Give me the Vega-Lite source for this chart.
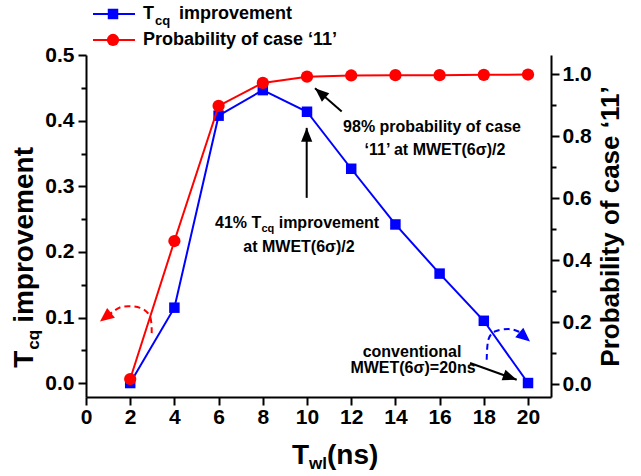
{
  "$schema": "https://vega.github.io/schema/vega-lite/v6.json",
  "width": 465,
  "height": 342,
  "autosize": {"type": "none"},
  "padding": {"left": 86, "top": 55, "right": 90, "bottom": 79},
  "background": "white",
  "config": {
    "view": {"stroke": null},
    "axis": {
      "grid": false,
      "domainColor": "black",
      "domainWidth": 2,
      "tickColor": "black",
      "tickWidth": 2,
      "labelFont": "Liberation Sans",
      "labelFontWeight": "bold",
      "labelFontSize": 21,
      "labelColor": "black",
      "titleFont": "Liberation Sans",
      "titleFontWeight": "bold",
      "titleColor": "black"
    }
  },
  "datasets": {
    "series": [
      {"x": 2, "imp": 0.0, "prob": 0.017},
      {"x": 4, "imp": 0.115, "prob": 0.462},
      {"x": 6, "imp": 0.408, "prob": 0.898},
      {"x": 8, "imp": 0.447, "prob": 0.972},
      {"x": 10, "imp": 0.414, "prob": 0.992},
      {"x": 12, "imp": 0.327, "prob": 0.996},
      {"x": 14, "imp": 0.242, "prob": 0.997},
      {"x": 16, "imp": 0.167, "prob": 0.997},
      {"x": 18, "imp": 0.095, "prob": 0.998},
      {"x": 20, "imp": 0.0, "prob": 0.999}
    ],
    "legLineBlue": [{"x": 0.317, "x2": 2.217, "y": 0.5632}],
    "legPtBlue": [{"x": 1.222, "y": 0.5632}],
    "legLineRed": [{"x": 0.317, "x2": 2.217, "y": 0.5235}],
    "legPtRed": [{"x": 1.222, "y": 0.5235}],
    "leg18": [
      {"x": 2.579, "y": 0.5557, "text": "T"},
      {"x": 4.208, "y": 0.5557, "text": "improvement"},
      {"x": 2.579, "y": 0.5154, "text": "Probability of case ‘11’"}
    ],
    "leg13": [{"x": 3.122, "y": 0.5464, "text": "cq"}],
    "txt16c": [
      {"x": 15.656, "y": 0.3832, "text": "98% probability of case"},
      {"x": 15.79, "y": 0.3483, "text": "‘11’ at MWET(6σ)/2"},
      {"x": 9.638, "y": 0.2007, "text": "at MWET(6σ)/2"},
      {"x": 14.751, "y": 0.0401, "text": "conventional"},
      {"x": 14.796, "y": 0.0157, "text": "MWET(6σ)=20ns"}
    ],
    "txt16l": [
      {"x": 5.837, "y": 0.2365, "text": "41% T"},
      {"x": 8.719, "y": 0.2365, "text": "improvement"}
    ],
    "txt11": [{"x": 7.941, "y": 0.2307, "text": "cq"}],
    "ttl28": [
      {"x": 9.321, "y": -0.1231, "text": "T"},
      {"x": 10.905, "y": -0.1231, "text": "(ns)"}
    ],
    "ttl17": [{"x": 10.095, "y": -0.1307, "text": "wl"}],
    "ttlv28": [
      {"x": -2.398, "y": 0.0233, "text": "T"},
      {"x": -2.398, "y": 0.0919, "text": "improvement"}
    ],
    "ttlv17": [{"x": -2.127, "y": 0.0508, "text": "cq"}],
    "arrows": [
      {"id": "a1", "i": 0, "x": 11.57, "y": 0.4142},
      {"id": "a1", "i": 1, "x": 10.362, "y": 0.4499},
      {"id": "a2", "i": 0, "x": 9.986, "y": 0.2826},
      {"id": "a2", "i": 1, "x": 9.986, "y": 0.3894},
      {"id": "a3", "i": 0, "x": 17.376, "y": 0.0305},
      {"id": "a3", "i": 1, "x": 19.489, "y": 0.005}
    ],
    "head1": [{"x": 10.362, "y": 0.4499}],
    "head2": [{"x": 9.986, "y": 0.3894}],
    "head3": [{"x": 19.489, "y": 0.005}],
    "curveRed": [
      {"i": 0, "x": 2.973, "y": 0.0762},
      {"i": 1, "x": 2.896, "y": 0.1016},
      {"i": 2, "x": 2.443, "y": 0.1148},
      {"i": 3, "x": 1.688, "y": 0.1168},
      {"i": 4, "x": 1.235, "y": 0.1092},
      {"i": 5, "x": 0.95, "y": 0.1010}
    ],
    "headRed": [{"x": 0.633, "y": 0.0939}],
    "curveBlue": [
      {"i": 0, "x": 18.131, "y": 0.0355},
      {"i": 1, "x": 18.204, "y": 0.066},
      {"i": 2, "x": 18.507, "y": 0.0787},
      {"i": 3, "x": 19.109, "y": 0.0823},
      {"i": 4, "x": 19.561, "y": 0.0787},
      {"i": 5, "x": 19.8, "y": 0.072}
    ],
    "headBlue": [{"x": 20.09, "y": 0.0634}]
  },
  "encoding": {
    "x": {
      "field": "x", "type": "quantitative",
      "scale": {"domain": [0, 21.04], "nice": false, "zero": false},
      "axis": {
        "orient": "bottom",
        "values": [0, 2, 4, 6, 8, 10, 12, 14, 16, 18, 20],
        "format": "d",
        "tickSize": 8,
        "labelPadding": 1,
        "labelFlush": false,
        "title": null
      }
    },
    "y": {"field": "y", "type": "quantitative", "scale": {"domain": [-0.0213, 0.5006], "nice": false, "zero": false}, "axis": null}
  },
  "layer": [
    {
      "data": {"name": "series"},
      "mark": {"type": "line", "color": "#0000ff", "strokeWidth": 2},
      "encoding": {
        "y": {
          "field": "imp", "type": "quantitative",
          "scale": {"domain": [-0.0213, 0.5006], "nice": false, "zero": false},
          "axis": {
            "orient": "left",
            "values": [0, 0.05, 0.1, 0.15, 0.2, 0.25, 0.3, 0.35, 0.4, 0.45, 0.5],
            "labelExpr": "abs(datum.value*10 - round(datum.value*10)) < 0.001 ? format(datum.value, '.1f') : ''",
            "tickSize": {"condition": {"test": "abs(datum.value*10 - round(datum.value*10)) < 0.001", "value": 8}, "value": 5},
            "labelPadding": 4,
            "labelFlush": false,
            "title": null
          }
        }
      }
    },
    {
      "data": {"name": "series"},
      "mark": {"type": "point", "shape": "square", "filled": true, "size": 110, "color": "#0000ff", "opacity": 1},
      "encoding": {
        "y": {"field": "imp", "type": "quantitative", "scale": {"domain": [-0.0213, 0.5006], "nice": false, "zero": false}, "axis": null}
      }
    },
    {
      "data": {"name": "series"},
      "mark": {"type": "line", "color": "#ff0000", "strokeWidth": 2},
      "encoding": {
        "y": {
          "field": "prob", "type": "quantitative",
          "scale": {"domain": [-0.041, 1.062], "nice": false, "zero": false},
          "axis": {
            "orient": "right",
            "values": [0, 0.1, 0.2, 0.3, 0.4, 0.5, 0.6, 0.7, 0.8, 0.9, 1.0],
            "labelExpr": "abs(datum.value*5 - round(datum.value*5)) < 0.001 ? format(datum.value, '.1f') : ''",
            "tickSize": {"condition": {"test": "abs(datum.value*5 - round(datum.value*5)) < 0.001", "value": 8}, "value": 5},
            "labelPadding": 3,
            "labelFlush": false,
            "title": "Probability of case ‘11’",
            "titleFontSize": 26,
            "titleAngle": 270,
            "titleBaseline": "top",
            "titlePadding": 6
          }
        }
      }
    },
    {
      "data": {"name": "series"},
      "mark": {"type": "point", "shape": "circle", "filled": true, "size": 150, "color": "#ff0000", "opacity": 1},
      "encoding": {
        "y": {"field": "prob", "type": "quantitative", "scale": {"domain": [-0.041, 1.062], "nice": false, "zero": false}, "axis": null}
      }
    },
    {
      "data": {"name": "arrows"},
      "mark": {"type": "line", "color": "black", "strokeWidth": 2},
      "encoding": {"detail": {"field": "id"}, "order": {"field": "i"}}
    },
    {
      "data": {"name": "head1"},
      "mark": {"type": "point", "shape": "M0,0L0.8,2L-0.8,2Z", "filled": true, "size": 196, "color": "black", "opacity": 1, "angle": 311}
    },
    {
      "data": {"name": "head2"},
      "mark": {"type": "point", "shape": "M0,0L0.8,2L-0.8,2Z", "filled": true, "size": 196, "color": "black", "opacity": 1, "angle": 0}
    },
    {
      "data": {"name": "head3"},
      "mark": {"type": "point", "shape": "M0,0L0.8,2L-0.8,2Z", "filled": true, "size": 196, "color": "black", "opacity": 1, "angle": 110}
    },
    {
      "data": {"name": "curveRed"},
      "mark": {"type": "line", "color": "#ff0000", "strokeWidth": 2, "strokeDash": [6, 4], "interpolate": "cardinal"},
      "encoding": {"order": {"field": "i"}}
    },
    {
      "data": {"name": "headRed"},
      "mark": {"type": "point", "shape": "M0,0L0.9,2L-0.9,2Z", "filled": true, "size": 196, "color": "#ff0000", "opacity": 1, "angle": 232}
    },
    {
      "data": {"name": "curveBlue"},
      "mark": {"type": "line", "color": "#0000ff", "strokeWidth": 2, "strokeDash": [6, 4], "interpolate": "cardinal"},
      "encoding": {"order": {"field": "i"}}
    },
    {
      "data": {"name": "headBlue"},
      "mark": {"type": "point", "shape": "M0,0L0.9,2L-0.9,2Z", "filled": true, "size": 196, "color": "#0000ff", "opacity": 1, "angle": 130}
    },
    {
      "data": {"name": "legLineBlue"},
      "mark": {"type": "rule", "color": "#0000ff", "strokeWidth": 2},
      "encoding": {"x2": {"field": "x2"}}
    },
    {
      "data": {"name": "legPtBlue"},
      "mark": {"type": "point", "shape": "square", "filled": true, "size": 110, "color": "#0000ff", "opacity": 1}
    },
    {
      "data": {"name": "legLineRed"},
      "mark": {"type": "rule", "color": "#ff0000", "strokeWidth": 2},
      "encoding": {"x2": {"field": "x2"}}
    },
    {
      "data": {"name": "legPtRed"},
      "mark": {"type": "point", "shape": "circle", "filled": true, "size": 150, "color": "#ff0000", "opacity": 1}
    },
    {
      "data": {"name": "leg18"},
      "mark": {"type": "text", "font": "Liberation Sans", "fontWeight": "bold", "color": "black", "fontSize": 18, "align": "left", "baseline": "alphabetic"},
      "encoding": {"text": {"field": "text"}}
    },
    {
      "data": {"name": "leg13"},
      "mark": {"type": "text", "font": "Liberation Sans", "fontWeight": "bold", "color": "black", "fontSize": 13, "align": "left", "baseline": "alphabetic"},
      "encoding": {"text": {"field": "text"}}
    },
    {
      "data": {"name": "txt16c"},
      "mark": {"type": "text", "font": "Liberation Sans", "fontWeight": "bold", "color": "black", "fontSize": 16, "align": "center", "baseline": "alphabetic"},
      "encoding": {"text": {"field": "text"}}
    },
    {
      "data": {"name": "txt16l"},
      "mark": {"type": "text", "font": "Liberation Sans", "fontWeight": "bold", "color": "black", "fontSize": 16, "align": "left", "baseline": "alphabetic"},
      "encoding": {"text": {"field": "text"}}
    },
    {
      "data": {"name": "txt11"},
      "mark": {"type": "text", "font": "Liberation Sans", "fontWeight": "bold", "color": "black", "fontSize": 11, "align": "left", "baseline": "alphabetic"},
      "encoding": {"text": {"field": "text"}}
    },
    {
      "data": {"name": "ttl28"},
      "mark": {"type": "text", "font": "Liberation Sans", "fontWeight": "bold", "color": "black", "fontSize": 28, "align": "left", "baseline": "alphabetic"},
      "encoding": {"text": {"field": "text"}}
    },
    {
      "data": {"name": "ttl17"},
      "mark": {"type": "text", "font": "Liberation Sans", "fontWeight": "bold", "color": "black", "fontSize": 17, "align": "left", "baseline": "alphabetic"},
      "encoding": {"text": {"field": "text"}}
    },
    {
      "data": {"name": "ttlv28"},
      "mark": {"type": "text", "font": "Liberation Sans", "fontWeight": "bold", "color": "black", "fontSize": 28, "align": "left", "baseline": "alphabetic", "angle": 270},
      "encoding": {"text": {"field": "text"}}
    },
    {
      "data": {"name": "ttlv17"},
      "mark": {"type": "text", "font": "Liberation Sans", "fontWeight": "bold", "color": "black", "fontSize": 17, "align": "left", "baseline": "alphabetic", "angle": 270},
      "encoding": {"text": {"field": "text"}}
    }
  ],
  "resolve": {"scale": {"y": "independent"}}
}
